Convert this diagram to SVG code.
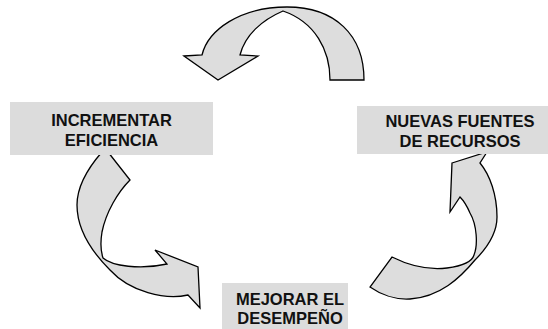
<svg xmlns="http://www.w3.org/2000/svg" width="548" height="329" viewBox="0 0 548 329">
<style>
.arrow{fill:#dddddd;stroke:#000;stroke-width:1.3;stroke-linejoin:miter}
.box{fill:#dcdcdc;stroke:none}
.lbl{font-family:"Liberation Sans",Arial,sans-serif;font-weight:bold;font-size:16.5px;fill:#111;text-anchor:middle}
</style>
<rect width="548" height="329" fill="#fff"/>
<g id="connectors">
<path id="arrow-top" class="arrow" d="M 184,56 L 202,55 C 208,30 240,7 287,7 C 335,7 364,35 364,80 L 330,80 C 330,50 315,22 283,11 C 262,20 245,35 240,55 L 258,56 L 218,80 Z"/>
<path id="arrow-left" class="arrow" d="M 102,152 L 108,152 L 130,180 C 118,192 106,212 102,232 C 100,244 101,252 103,258 C 112,266 140,270 167,264 L 155,250 L 198,267 L 200,308 L 188,295 C 165,300 130,292 110,270 C 90,250 77,228 77,205 C 77,185 88,168 102,152 Z"/>
<path id="arrow-right" class="arrow" d="M 452,163 L 487,152 L 480,163 C 490,175 497,195 497,217 C 497,232 490,245 475,260 C 460,278 440,297 410,299 C 395,300 380,294 370,287 L 392,257 C 410,266 430,270 447,268 C 462,266 472,262 474,255 C 478,245 477,225 470,213 C 467,206 463,200 460,197 L 450,212 Z"/>
</g>
<g id="node-incrementar">
<rect class="box" x="10" y="102" width="203" height="53"/>
<text class="lbl" x="111.5" y="126">INCREMENTAR</text>
<text class="lbl" x="111.5" y="146">EFICIENCIA</text>
</g>
<g id="node-nuevas">
<rect class="box" x="357" y="106" width="191" height="48"/>
<text class="lbl" x="460" y="127">NUEVAS FUENTES</text>
<text class="lbl" x="460" y="147">DE RECURSOS</text>
</g>
<g id="node-mejorar">
<rect class="box" x="222" y="283" width="126" height="46"/>
<text class="lbl" x="290" y="305">MEJORAR EL</text>
<text class="lbl" x="290" y="324">DESEMPEÑO</text>
</g>
</svg>
